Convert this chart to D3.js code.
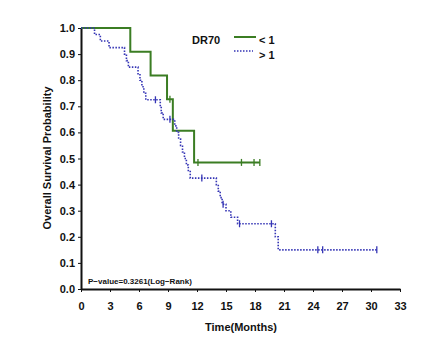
<!DOCTYPE html>
<meta charset="utf-8">
<style>
  body { margin: 0; background: #fff; }
  svg { position: absolute; left: 0; top: 0; }
  text { font-family: 'Liberation Sans', Arial, sans-serif; font-weight: bold; fill: #111; }
  .axis path, .axis line { stroke: #111; }
  .axis path { stroke-width: 2px; }
  .axis text { font-size: 11px; }
</style>
<script src="https://d3js.org/d3.v7.min.js"></script>
<svg width="426" height="338"></svg>
<script>
  // Kaplan-Meier steps: [months, survival]
  var lowSteps = [[0, 1], [5.1, 0.909], [7.2, 0.818], [8.9, 0.727], [9.5, 0.606], [11.7, 0.485], [18.5, 0.485]];
  var lowCensor = [9.2, 12.1, 16.6, 17.9, 18.5];

  var highSteps = [[0, 1], [1.4, 0.975], [2.0, 0.95], [2.9, 0.925], [4.5, 0.9], [4.7, 0.875], [4.9, 0.85],
    [5.9, 0.825], [6.1, 0.8], [6.3, 0.775], [6.5, 0.75], [6.7, 0.725], [8.2, 0.7], [8.3, 0.675], [8.5, 0.65],
    [9.7, 0.625], [9.9, 0.6], [10.1, 0.575], [10.3, 0.55], [10.5, 0.525], [10.7, 0.5], [10.9, 0.475],
    [11.1, 0.45], [11.3, 0.425], [14.0, 0.4], [14.2, 0.375], [14.4, 0.35], [14.6, 0.325], [15.0, 0.3],
    [15.5, 0.275], [16.2, 0.25], [20.1, 0.2], [20.4, 0.15], [30.6, 0.15]];
  var highCensor = [7.7, 9.2, 12.5, 14.7, 16.4, 19.7, 24.5, 25.0, 30.6];

  var xTicks = d3.range(0, 34, 3);
  var yTicks = d3.range(0, 11).map(function(i) { return i / 10; });

  var svg = d3.select("svg");
  var x = d3.scaleLinear().domain([0, 33]).range([81, 400]);
  var y = d3.scaleLinear().domain([0, 1]).range([289, 28]);

  svg.append("g").attr("class", "axis")
    .attr("transform", "translate(0,289)")
    .call(d3.axisBottom(x).tickValues(xTicks).tickSize(3).tickSizeOuter(0).tickPadding(10));

  svg.append("g").attr("class", "axis")
    .attr("transform", "translate(81,0)")
    .call(d3.axisLeft(y).tickValues(yTicks).tickFormat(d3.format(".1f")).tickSize(3).tickSizeOuter(0).tickPadding(3));

  var line = d3.line()
    .x(function(d) { return x(d[0]); })
    .y(function(d) { return y(d[1]); })
    .curve(d3.curveStepAfter);

  function survAt(steps, t) {
    var s = steps[0][1];
    steps.forEach(function(d) { if (d[0] <= t) s = d[1]; });
    return s;
  }

  function drawGroup(steps, censor, color, width, dash) {
    svg.append("path")
      .datum(steps)
      .attr("d", line)
      .attr("fill", "none")
      .attr("stroke", color)
      .attr("stroke-width", width)
      .attr("stroke-dasharray", dash);
    svg.selectAll(null)
      .data(censor)
      .enter().append("line")
      .attr("x1", function(d) { return x(d); })
      .attr("x2", function(d) { return x(d); })
      .attr("y1", function(d) { return y(survAt(steps, d)) - 3.5; })
      .attr("y2", function(d) { return y(survAt(steps, d)) + 3.5; })
      .attr("stroke", color)
      .attr("stroke-width", 1.3);
  }

  drawGroup(lowSteps, lowCensor, "#3b7d23", 2, null);
  drawGroup(highSteps, highCensor, "#3535b5", 1.6, "1.5,1.5");

  // legend
  svg.append("text").attr("x", 192).attr("y", 44).style("font-size", "11px").text("DR70");
  svg.append("line").attr("x1", 234).attr("x2", 256).attr("y1", 37).attr("y2", 37)
    .attr("stroke", "#3b7d23").attr("stroke-width", 2);
  svg.append("text").attr("x", 259).attr("y", 44).style("font-size", "11px").text("< 1");
  svg.append("line").attr("x1", 234).attr("x2", 253).attr("y1", 51).attr("y2", 51)
    .attr("stroke", "#3535b5").attr("stroke-width", 1.6).attr("stroke-dasharray", "1.5,1.5");
  svg.append("text").attr("x", 259).attr("y", 59).style("font-size", "11px").text("> 1");

  svg.append("text").attr("x", 88).attr("y", 284).style("font-size", "8px")
    .text("P\u2212value=0.3261(Log\u2212Rank)");

  svg.append("text").attr("x", 241).attr("y", 331).attr("text-anchor", "middle")
    .style("font-size", "11px").text("Time(Months)");
  svg.append("text").attr("transform", "translate(51,158) rotate(-90)").attr("text-anchor", "middle")
    .style("font-size", "11px").text("Overall Survival Probability");
</script>
